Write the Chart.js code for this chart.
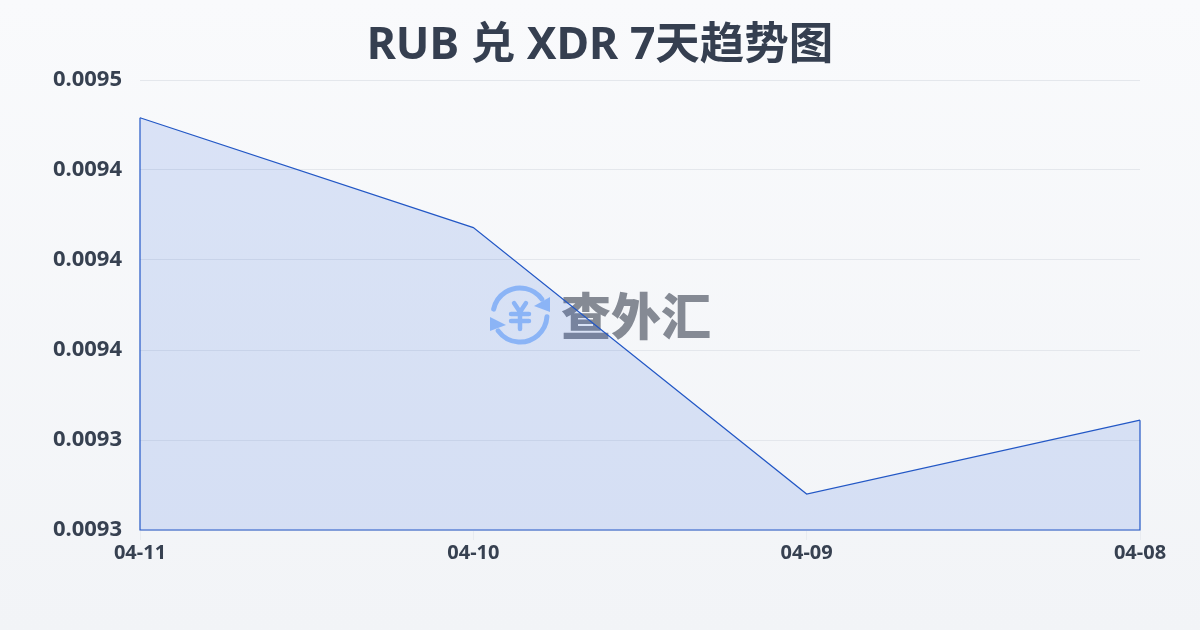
<!DOCTYPE html>
<html lang="zh">
<head>
<meta charset="utf-8">
<title>RUB 兑 XDR 7天趋势图</title>
<script src="https://cdn.jsdelivr.net/npm/chart.js@4/dist/chart.umd.min.js"></script>
<style>
    html, body { margin: 0; padding: 0; }
    body {
        width: 1200px;
        height: 630px;
        overflow: hidden;
        background: linear-gradient(180deg, #f9fafc 0%, #f2f4f7 100%);
    }
    canvas { display: block; }
</style>
</head>
<body>
<canvas id="trendChart" width="1200" height="630"></canvas>
<script>
// Chart data
const titleText = 'RUB 兑 XDR 7天趋势图';
const dates = ['04-11', '04-10', '04-09', '04-08'];
const rates = [0.009479, 0.009418, 0.00927, 0.009311];
const yTickLabels = ['0.0095', '0.0094', '0.0094', '0.0094', '0.0093', '0.0093'];
const yMin = 0.00925;
const yMax = 0.0095;
const yStep = 0.00005;
const watermarkText = '查外汇';

const fontFamily = '"Noto Sans", "Noto Sans CJK SC", sans-serif';
const textColor = '#374151';
const lineColor = '#2257c5';

// Logo and name behind the line
const watermarkPlugin = {
    id: 'watermark',
    beforeDatasetsDraw(chart) {
        const ctx = chart.ctx;
        ctx.save();

        ctx.strokeStyle = '#9cc3fb';
        ctx.fillStyle = '#9cc3fb';
        ctx.lineCap = 'round';
        ctx.lineJoin = 'round';
        ctx.lineWidth = 5;

        // Two arcs around the yen sign
        ctx.beginPath();
        ctx.arc(520, 315, 27, Math.PI * 1.07, Math.PI * 1.8);
        ctx.stroke();
        ctx.beginPath();
        ctx.arc(520, 315, 27, Math.PI * 0.02, Math.PI * 0.8);
        ctx.stroke();

        ctx.beginPath();
        ctx.moveTo(550, 297);
        ctx.lineTo(550, 312);
        ctx.lineTo(534, 306);
        ctx.closePath();
        ctx.fill();
        ctx.beginPath();
        ctx.moveTo(490, 317);
        ctx.lineTo(490, 331);
        ctx.lineTo(506, 325);
        ctx.closePath();
        ctx.fill();

        // Yen sign
        ctx.lineWidth = 4.5;
        ctx.beginPath();
        ctx.moveTo(514, 303);
        ctx.lineTo(520, 312);
        ctx.lineTo(526, 303);
        ctx.moveTo(520, 312);
        ctx.lineTo(520, 329);
        ctx.moveTo(511, 314);
        ctx.lineTo(529, 314);
        ctx.moveTo(511, 321);
        ctx.lineTo(529, 321);
        ctx.stroke();

        ctx.fillStyle = '#858a94';
        ctx.font = '900 50px "Noto Sans CJK SC", sans-serif';
        ctx.textAlign = 'left';
        ctx.textBaseline = 'middle';
        ctx.fillText(watermarkText, 561, 316);
        ctx.restore();
    }
};

// Sides and base of the filled area
const edgePoints = [
    { x: dates[dates.length - 1], y: rates[rates.length - 1] },
    { x: dates[dates.length - 1], y: yMin },
    { x: dates[0], y: yMin },
    { x: dates[0], y: rates[0] }
];

new Chart(document.getElementById('trendChart').getContext('2d'), {
    type: 'line',
    data: {
        labels: dates,
        datasets: [
            {
                label: 'RUB/XDR',
                data: rates,
                borderColor: lineColor,
                borderWidth: 1.2,
                backgroundColor: 'rgba(37, 90, 220, 0.14)',
                fill: 'start',
                tension: 0,
                pointRadius: 0,
                clip: false
            },
            {
                label: 'edge',
                data: edgePoints,
                borderColor: lineColor,
                borderWidth: 1.2,
                fill: false,
                tension: 0,
                pointRadius: 0,
                clip: false
            }
        ]
    },
    options: {
        responsive: false,
        animation: false,
        plugins: {
            legend: { display: false },
            tooltip: { enabled: false },
            title: {
                display: true,
                text: titleText,
                color: '#353f50',
                font: { family: fontFamily, size: 44.5, weight: 'bold' },
                padding: { top: 20, bottom: 6.6 },
                fullSize: true
            }
        },
        scales: {
            x: {
                offset: false,
                border: { display: false },
                grid: {
                    drawOnChartArea: false,
                    drawTicks: true,
                    tickLength: 10,
                    color: '#e8ebf0'
                },
                ticks: {
                    color: textColor,
                    padding: 1,
                    maxRotation: 0,
                    font: { family: fontFamily, size: 20, weight: 'bold' }
                },
                afterFit(scale) { scale.height = 100; }
            },
            y: {
                min: yMin,
                max: yMax,
                border: { display: false },
                grid: {
                    color: '#e4e7ec',
                    lineWidth: 1,
                    drawTicks: false
                },
                ticks: {
                    stepSize: yStep,
                    color: textColor,
                    padding: 18,
                    font: { family: fontFamily, size: 22, weight: 'bold' },
                    callback(value, index, ticks) {
                        return yTickLabels[ticks.length - 1 - index];
                    }
                },
                afterFit(scale) { scale.width = 140; }
            },
            // Empty axis that keeps the right margin while the title stays centred on the page
            yRight: {
                position: 'right',
                border: { display: false },
                grid: { display: false },
                ticks: { display: false },
                afterFit(scale) { scale.width = 60; }
            }
        }
    },
    plugins: [watermarkPlugin]
});
</script>
</body>
</html>
